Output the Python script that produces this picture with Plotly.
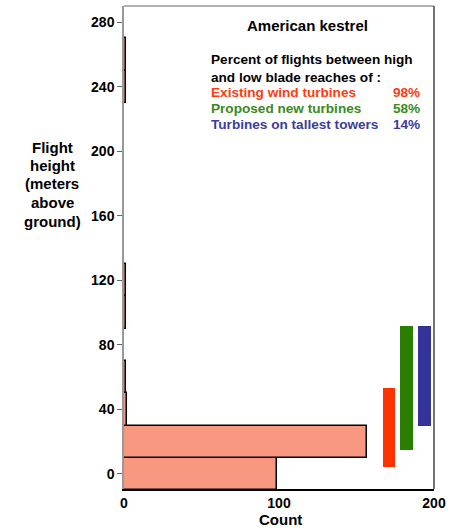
import plotly.graph_objects as go

# Histogram of flight heights (bins of 20 m)
bin_centers = [0, 20, 40, 60, 100, 120, 240, 260]
bin_counts = [99, 157, 2, 1, 1, 1, 1, 1]

# Rotor-swept zones
turbine_names = ["Existing wind turbines", "Proposed new turbines", "Turbines on tallest towers"]
turbine_pct = ["98%", "58%", "14%"]
turbine_x = [171, 182, 194]
turbine_low = [4.5, 15, 29.5]
turbine_high = [53.5, 91.5, 91.5]
turbine_colors = ["#FF3300", "#2A7F00", "#333399"]
text_colors = ["#FF3a10", "#3A8A20", "#3C3C9A"]

y_ticks = [0, 40, 80, 120, 160, 200, 240, 280]
x_ticks = [0, 100, 200]

FONT = "Liberation Sans, Arial, sans-serif"

fig = go.Figure()
fig.add_trace(go.Bar(
    y=bin_centers, x=bin_counts, orientation="h", width=20,
    marker=dict(color="#F89880", line=dict(color="black", width=1.5)),
    showlegend=False, hoverinfo="skip"))

for xc, lo, hi, col in zip(turbine_x, turbine_low, turbine_high, turbine_colors):
    fig.add_trace(go.Bar(
        x=[xc], y=[hi - lo], base=[lo], width=8.3, orientation="v",
        marker=dict(color=col, line=dict(width=0)),
        showlegend=False, hoverinfo="skip"))

L, R, T, B = 124, 434, 6, 489
W, H = 459, 530
def px(x):
    return (x - L) / (R - L)
def py(y):
    return (B - y) / (B - T)

PS = 13.6
ann = []
ann.append(dict(text="<b>American kestrel</b>", x=px(307), y=py(25), xanchor="center", yanchor="middle",
                font=dict(size=15, color="black")))
ann.append(dict(text="<b>Percent of flights between high</b>", x=px(209), y=py(60), xanchor="left",
                yanchor="middle", font=dict(size=PS, color="black")))
ann.append(dict(text="<b>and low blade reaches of :</b>", x=px(209), y=py(77), xanchor="left",
                yanchor="middle", font=dict(size=PS, color="black")))
line_y = [92.5, 108.5, 125]
for name, pct, col, yy in zip(turbine_names, turbine_pct, text_colors, line_y):
    ann.append(dict(text=f"<b>{name}</b>", x=px(209), y=py(yy), xanchor="left", yanchor="middle",
                    font=dict(size=PS, color=col)))
    ann.append(dict(text=f"<b>{pct}</b>", x=px(421.5), y=py(yy), xanchor="right", yanchor="middle",
                    font=dict(size=PS, color=col)))

ytitle = ["Flight", "height", "(meters", "above", "ground)"]
for i, t in enumerate(ytitle):
    ann.append(dict(text=f"<b>{t}</b>", x=px(52), y=py(147 + i * 18.5), xanchor="center", yanchor="middle",
                    font=dict(size=15, color="black")))
ann.append(dict(text="<b>Count</b>", x=px(280), y=py(529.5), xanchor="center", yanchor="bottom",
                font=dict(size=15, color="black")))
for a in ann:
    a.update(xref="paper", yref="paper", showarrow=False)

fig.update_layout(
    width=W, height=H, autosize=False,
    margin=dict(l=L, r=W - R, t=T, b=H - B, pad=0),
    paper_bgcolor="white", plot_bgcolor="white",
    barmode="overlay", bargap=0,
    font=dict(family=FONT, size=14, color="black"),
    annotations=ann,
    xaxis=dict(range=[0, 200], tickvals=x_ticks, ticktext=[f"<b>{v}</b>" for v in x_ticks],
               showgrid=False, zeroline=False, showline=True, linecolor="black", linewidth=1.5,
               ticks="", tickfont=dict(size=14), fixedrange=True),
    yaxis=dict(range=[-9.3, 290], tickvals=y_ticks, ticktext=[f"<b>{v}</b>" for v in y_ticks],
               showgrid=False, zeroline=False, showline=True, linecolor="#999999", linewidth=1.5,
               mirror=False, ticks="outside", ticklen=5, tickcolor="#666666", tickwidth=1,
               tickfont=dict(size=14), fixedrange=True),
    shapes=[
        dict(type="line", xref="paper", yref="paper", x0=0, x1=1, y0=1, y1=1,
             line=dict(color="#999999", width=1.5)),
        dict(type="line", xref="paper", yref="paper", x0=1, x1=1, y0=0, y1=1,
             line=dict(color="#444444", width=1.5)),
    ],
)

fig.write_html("out.html")
